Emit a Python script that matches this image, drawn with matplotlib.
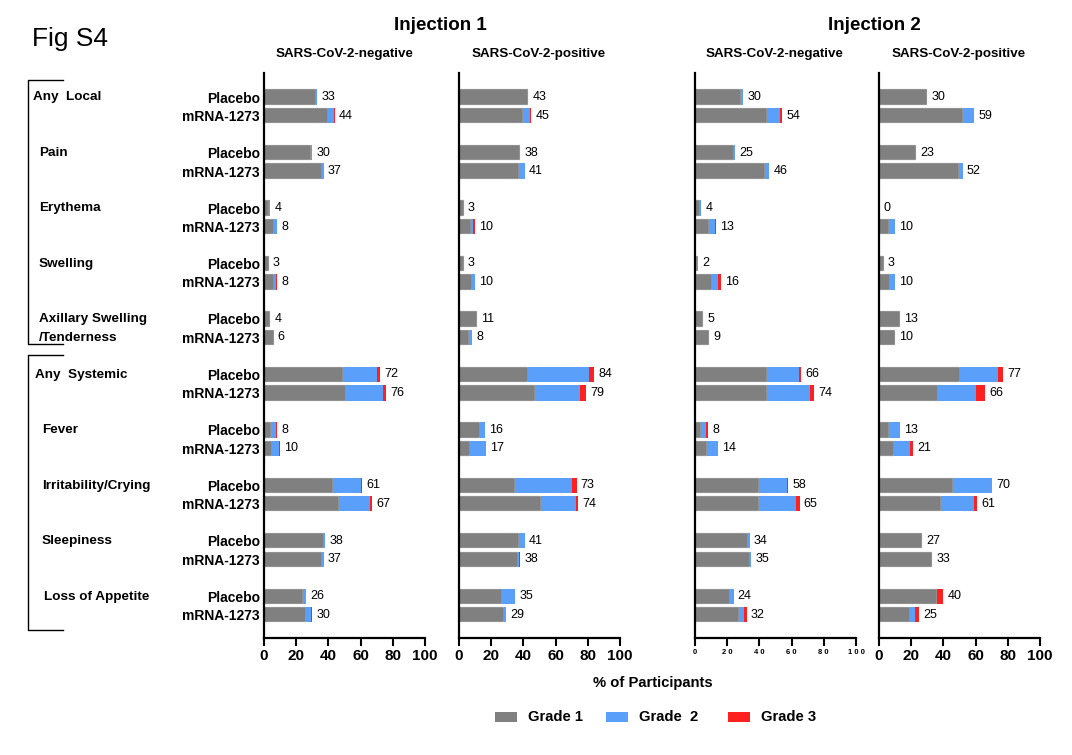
import matplotlib
matplotlib.use("Agg")
import matplotlib.pyplot as plt
from matplotlib.lines import Line2D
from matplotlib.patches import Rectangle
import numpy as np

plt.rcParams['font.family'] = ['Liberation Sans', 'DejaVu Sans']

categories = ["Any  Local", "Pain", "Erythema", "Swelling", "Axillary Swelling\n/Tenderness",
              "Any  Systemic", "Fever", "Irritability/Crying", "Sleepiness", "Loss of Appetite"]
groups = ["Placebo", "mRNA-1273"]
panel_titles = ["SARS-CoV-2-negative", "SARS-CoV-2-positive", "SARS-CoV-2-negative", "SARS-CoV-2-positive"]
injections = ["Injection 1", "Injection 2"]
grades = ["Grade 1", "Grade  2", "Grade 3"]
xticks = [0, 20, 40, 60, 80, 100]
xtick_labels_std = ["0", "20", "40", "60", "80", "100"]
xtick_labels_p3 = ["0", "2 0", "4 0", "6 0", "8 0", "1 0 0"]

# rows: for each category -> Placebo, mRNA-1273
inj1_neg_g1 = [32, 40, 29.5, 36, 3, 6.5, 3, 6.5, 4, 6, 49, 51, 4.5, 5, 43, 46.5, 37, 36, 24, 26]
inj1_neg_g2 = [1, 3.5, 0.5, 1, 0.5, 1.5, 0, 1, 0, 0, 21, 23, 3, 4.5, 17.5, 19.5, 1, 1, 2, 3.5]
inj1_neg_g3 = [0, 0.5, 0, 0, 0.5, 0, 0, 0.5, 0, 0, 2, 2, 0.5, 0.5, 0.5, 1, 0, 0, 0, 0.5]
inj1_neg_tot = [33, 44, 30, 37, 4, 8, 3, 8, 4, 6, 72, 76, 8, 10, 61, 67, 38, 37, 26, 30]

inj1_pos_g1 = [43, 39.5, 38, 37.5, 3, 7.5, 3, 8, 11, 6.5, 43, 47, 13, 7, 35, 51, 37.5, 36.5, 26.5, 28]
inj1_pos_g2 = [0, 4.5, 0, 3.5, 0, 1.5, 0, 2, 0, 1.5, 38, 28, 3, 9.5, 35, 21.5, 3.5, 1, 8.5, 1]
inj1_pos_g3 = [0, 1, 0, 0, 0, 1, 0, 0, 0, 0, 3, 4, 0, 0.5, 3, 1.5, 0, 0.5, 0, 0]
inj1_pos_tot = [43, 45, 38, 41, 3, 10, 3, 10, 11, 8, 84, 79, 16, 17, 73, 74, 41, 38, 35, 29]

inj2_neg_g1 = [28.5, 45, 24, 43.5, 3, 9, 1.5, 10.5, 5, 9, 45, 44.5, 3.5, 7.5, 40, 40, 33, 34, 21.5, 27.5]
inj2_neg_g2 = [1.5, 8, 1, 2.5, 1, 3.5, 0.5, 4, 0, 0, 19.5, 27, 3.5, 6.5, 17, 23, 1, 1, 2.5, 3]
inj2_neg_g3 = [0, 1, 0, 0, 0, 0.5, 0, 1.5, 0, 0, 1.5, 2.5, 1, 0, 1, 2, 0, 0, 0, 1.5]
inj2_neg_tot = [30, 54, 25, 46, 4, 13, 2, 16, 5, 9, 66, 74, 8, 14, 58, 65, 34, 35, 24, 32]

inj2_pos_g1 = [30, 52, 23, 49.5, 0, 6, 3, 7, 13, 10, 50, 36.5, 6.5, 9.5, 46, 38.5, 27, 33, 36, 19]
inj2_pos_g2 = [0, 7, 0, 2.5, 0, 4, 0, 3, 0, 0, 24, 24, 6.5, 10, 24, 20.5, 0, 0, 0, 3.5]
inj2_pos_g3 = [0, 0, 0, 0, 0, 0, 0, 0, 0, 0, 3, 5.5, 0, 1.5, 0, 2, 0, 0, 4, 2.5]
inj2_pos_tot = [30, 59, 23, 52, 0, 10, 3, 10, 13, 10, 77, 66, 13, 21, 70, 61, 27, 33, 40, 25]

panels = [
    (inj1_neg_g1, inj1_neg_g2, inj1_neg_g3, inj1_neg_tot),
    (inj1_pos_g1, inj1_pos_g2, inj1_pos_g3, inj1_pos_tot),
    (inj2_neg_g1, inj2_neg_g2, inj2_neg_g3, inj2_neg_tot),
    (inj2_pos_g1, inj2_pos_g2, inj2_pos_g3, inj2_pos_tot),
]

C1, C2, C3 = "#808080", "#5aa0fa", "#ff2020"
W, H = 1072, 755
fig = plt.figure(figsize=(W / 100, H / 100), dpi=100)
fig.patch.set_facecolor("white")

def fx(px):
    return px / W

def fy(py):
    return 1 - py / H

ax_top, ax_bot = 73, 638
lefts = [264, 459, 695, 879]
pw = 161
ncat = len(categories)
ypos = []
for i in range(ncat):
    ypos += [3 * i, 3 * i + 1]
ypos = np.array(ypos)

for k, (g1, g2, g3, tot) in enumerate(panels):
    ax = fig.add_axes([fx(lefts[k]), fy(ax_bot), pw / W, (ax_bot - ax_top) / H])
    g1 = np.array(g1); g2 = np.array(g2); g3 = np.array(g3)
    ax.barh(ypos, g1, height=0.82, color=C1, edgecolor="#d8d8d8", linewidth=0.3)
    ax.barh(ypos, g2, left=g1, height=0.82, color=C2, linewidth=0)
    ax.barh(ypos, g3, left=g1 + g2, height=0.82, color=C3, linewidth=0)
    for y, t, s in zip(ypos, tot, g1 + g2 + g3):
        ax.annotate(str(t), (s, y), xytext=(3, 0), textcoords="offset points",
                    ha="left", va="center", fontsize=9)
    ax.set_xlim(0, 100)
    ax.set_ylim(3 * (ncat - 1) + 1 + 1.25, -1.3)
    ax.spines["top"].set_visible(False)
    ax.spines["right"].set_visible(False)
    ax.spines["left"].set_linewidth(1.6)
    ax.spines["bottom"].set_linewidth(1.6)
    ax.set_xticks(xticks)
    if k == 2:
        ax.set_xticklabels(xtick_labels_p3, fontsize=5.5, fontweight="bold")
    else:
        ax.set_xticklabels(xtick_labels_std, fontsize=11, fontweight="bold")
    ax.tick_params(axis="x", length=6, width=1.5, direction="out", pad=2)
    if k == 0:
        ax.set_yticks(ypos)
        ax.set_yticklabels(groups * ncat, fontsize=10, fontweight="bold")
        ax.tick_params(axis="y", length=0, pad=3)
    else:
        ax.set_yticks([])
    cx = lefts[k] + 80
    fig.text(fx(cx), fy(54), panel_titles[k], ha="center", va="center",
             fontsize=9.6, fontweight="bold")

fig.text(fx(440), fy(25), injections[0], ha="center", va="center", fontsize=13.5, fontweight="bold")
fig.text(fx(874), fy(25), injections[1], ha="center", va="center", fontsize=13.5, fontweight="bold")
fig.text(fx(32), fy(39), "Fig S4", ha="left", va="center", fontsize=19)

# category labels
cat_x = [33, 39, 39, 39, 39, 35, 42, 42, 42, 44]
unit = (597 - 97) / 27.0
for i, (name, x) in enumerate(zip(categories, cat_x)):
    y_px = 97 + unit * 3 * i
    if "\n" in name:
        a, b = name.split("\n")
        fig.text(fx(x), fy(y_px), a, ha="left", va="center", fontsize=9.7, fontweight="bold")
        fig.text(fx(x), fy(y_px + unit), b, ha="left", va="center", fontsize=9.7, fontweight="bold")
    else:
        fig.text(fx(x), fy(y_px), name, ha="left", va="center", fontsize=9.7, fontweight="bold")

# brackets
for top, bot in [(80, 344), (355, 630)]:
    xs = [fx(63), fx(28), fx(28), fx(63)]
    ys = [fy(top), fy(top), fy(bot), fy(bot)]
    fig.add_artist(Line2D(xs, ys, color="black", linewidth=1.0, transform=fig.transFigure))

fig.text(fx(653), fy(683), "% of Participants", ha="center", va="center", fontsize=10.6, fontweight="bold")

# legend
leg_colors = [C1, C2, C3]
patch_x = [495, 606, 728]
for c, px, label in zip(leg_colors, patch_x, grades):
    fig.add_artist(Rectangle((fx(px), fy(722)), 22 / W, 10 / H, facecolor=c,
                             edgecolor="none", transform=fig.transFigure))
    fig.text(fx(px + 33), fy(717), label, ha="left", va="center", fontsize=10.6, fontweight="bold")

fig.savefig("out.png", dpi=100, facecolor="white")
